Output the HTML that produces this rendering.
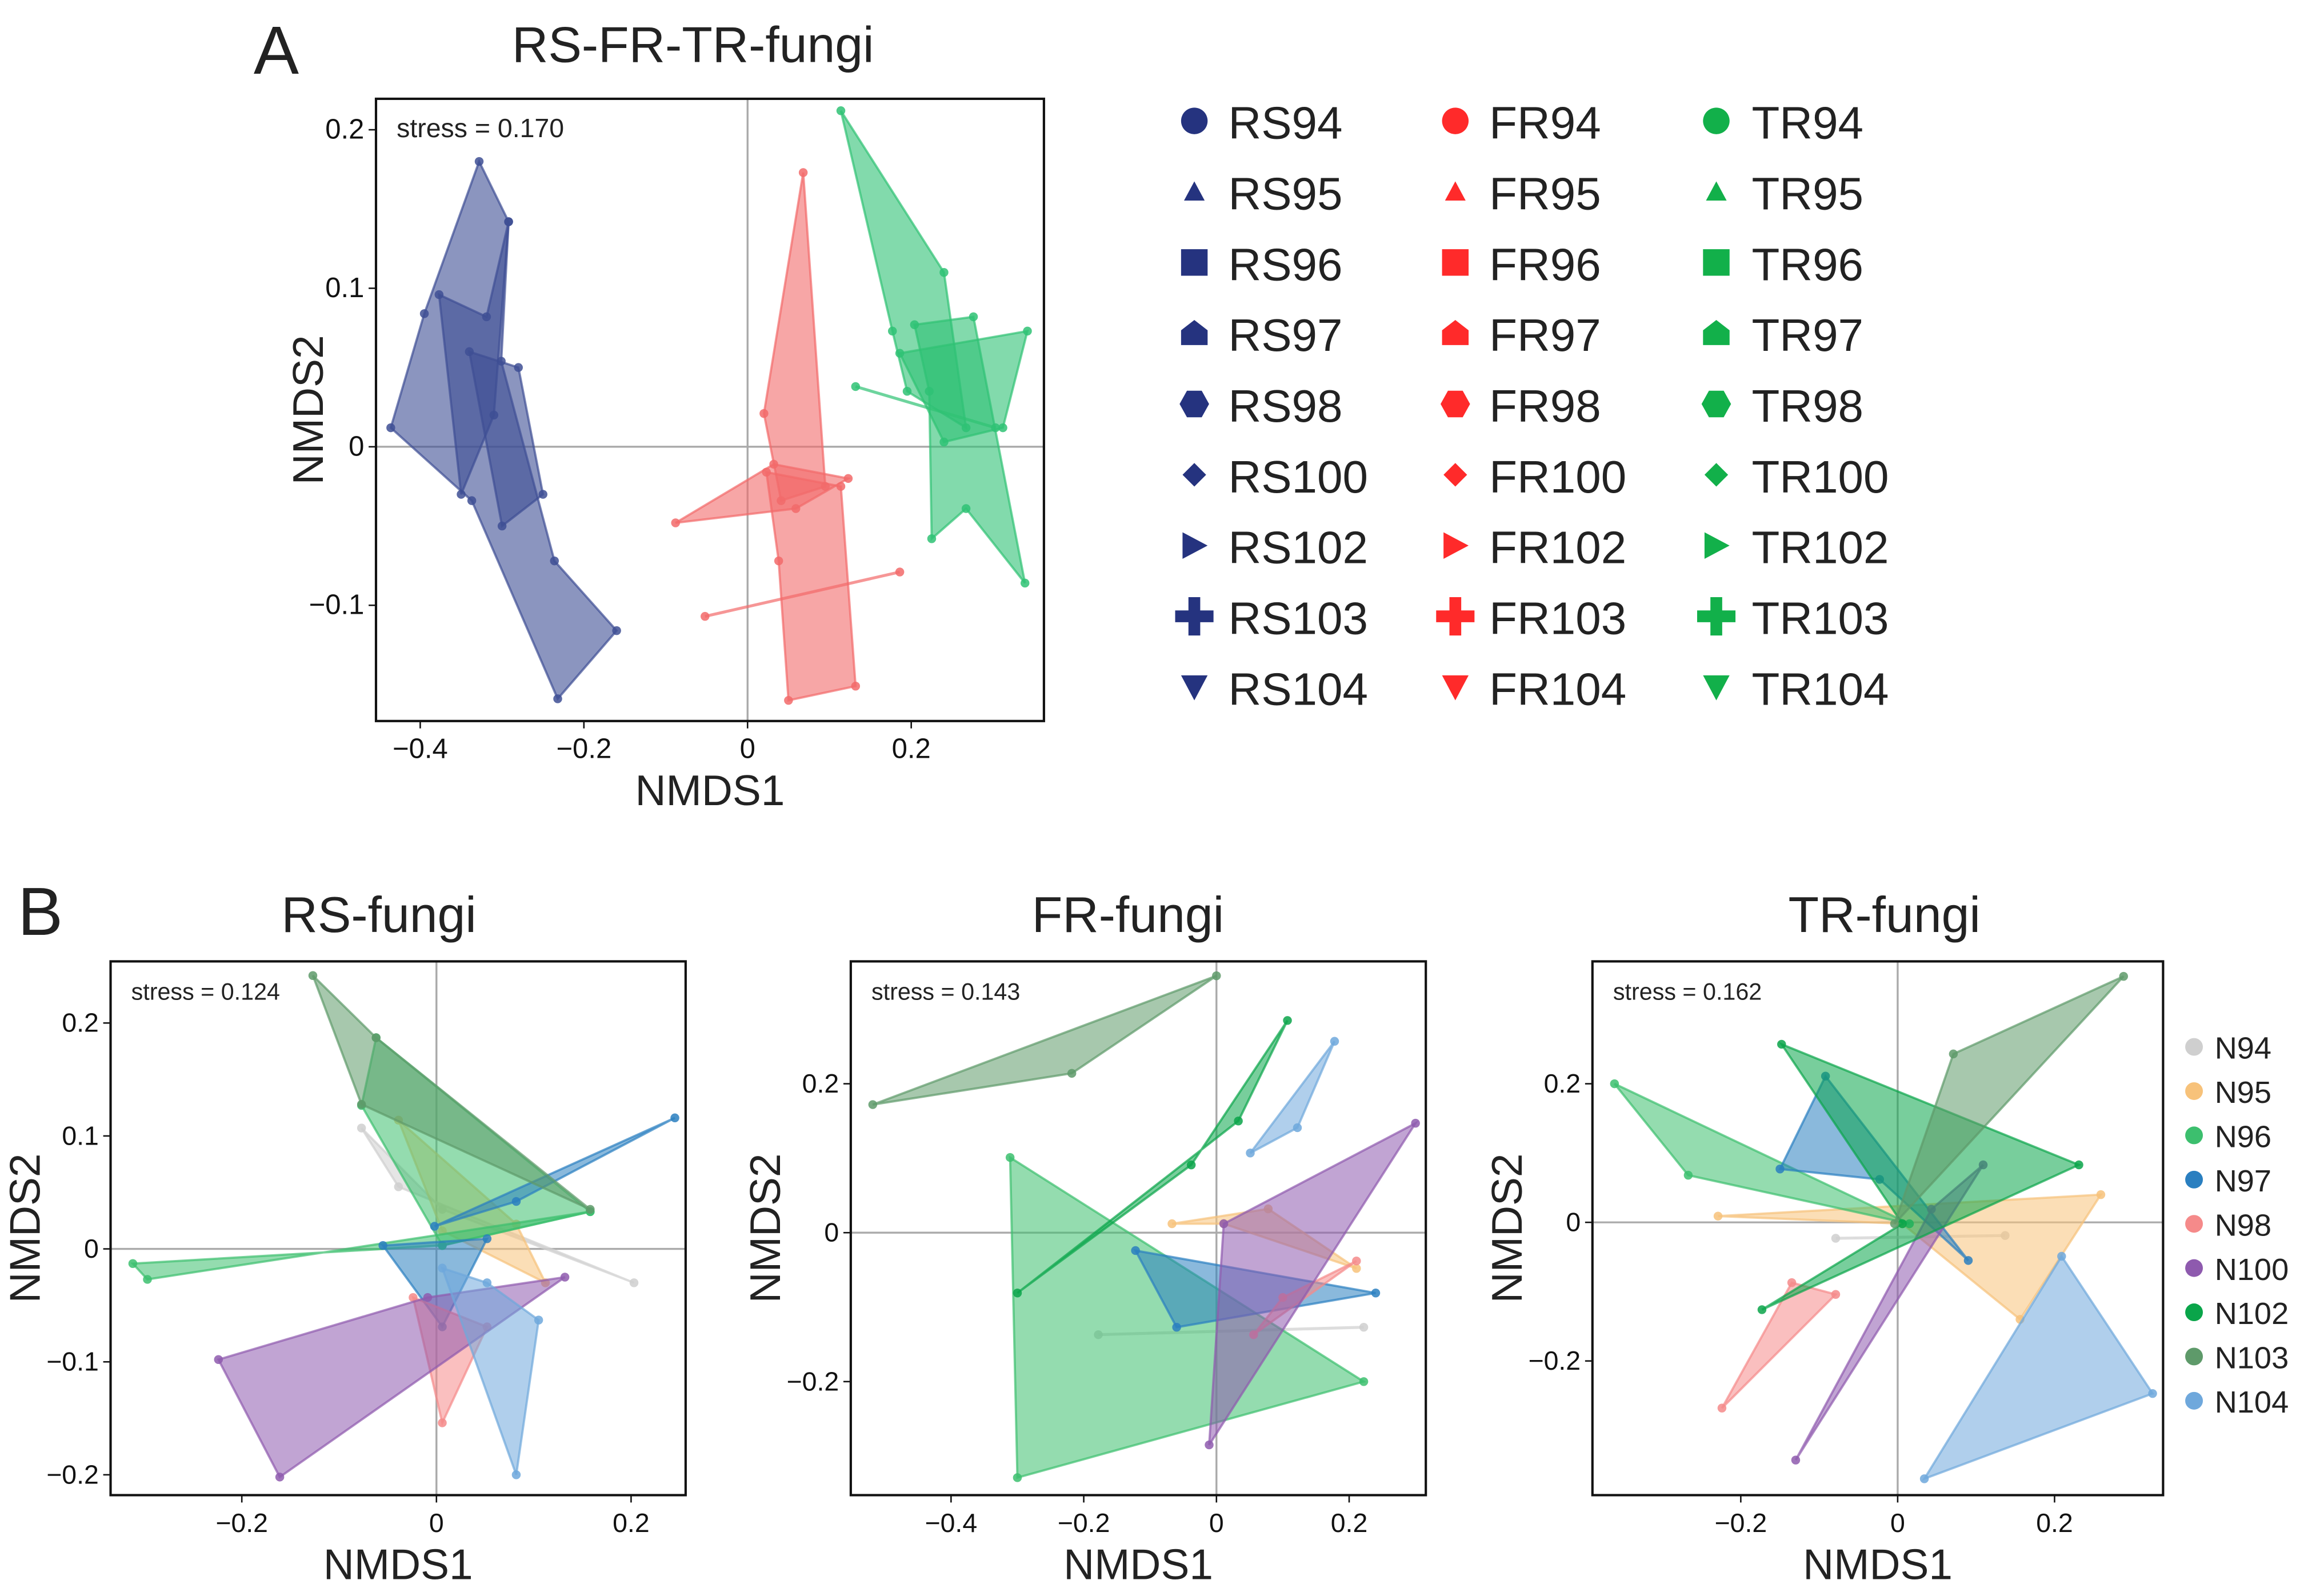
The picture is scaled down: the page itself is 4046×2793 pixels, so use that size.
<!DOCTYPE html>
<html><head><meta charset="utf-8"><style>
html,body{margin:0;padding:0;background:#fff}
svg{display:block;font-family:"Liberation Sans",Arial,sans-serif}
</style></head><body>
<svg id="chart" width="4046" height="2793" viewBox="0 0 1568 1082.4" xmlns="http://www.w3.org/2000/svg"></svg>
<script>
// ---------- Panel A data (NMDS1, NMDS2) ----------
const rsPolys = [
 [[-0.328,0.180],[-0.292,0.142],[-0.301,0.054],[-0.236,-0.072],[-0.160,-0.116],[-0.232,-0.159],[-0.337,-0.034],[-0.436,0.012],[-0.395,0.084]],
 [[-0.377,0.096],[-0.319,0.082],[-0.292,0.142],[-0.310,0.020],[-0.350,-0.030]],
 [[-0.340,0.060],[-0.280,0.050],[-0.250,-0.030],[-0.300,-0.050]]
];
const frPolys = [
 [[0.068,0.173],[0.095,-0.025],[0.041,-0.034],[0.020,0.021]],
 [[-0.088,-0.048],[0.032,-0.011],[0.123,-0.020],[0.059,-0.039]],
 [[0.023,-0.016],[0.114,-0.025],[0.132,-0.151],[0.050,-0.160],[0.038,-0.072]],
 [[-0.052,-0.107],[0.186,-0.079]]
];
const trPolys = [
 [[0.114,0.212],[0.240,0.110],[0.267,0.012],[0.195,0.035],[0.177,0.073]],
 [[0.204,0.077],[0.276,0.082],[0.339,-0.086],[0.267,-0.039],[0.225,-0.058],[0.222,0.035]],
 [[0.186,0.059],[0.342,0.073],[0.312,0.012],[0.240,0.003]],
 [[0.132,0.038],[0.303,0.012]]
];
const aXTicks = [-0.4,-0.2,0,0.2];
const aYTicks = [0.2,0.1,0,-0.1];
const legendA = ["94","95","96","97","98","100","102","103","104"];
// ---------- Panel B data ----------
const groups = ["N94","N95","N96","N97","N98","N100","N102","N103","N104"];
const groupColors = ["#cfcfcf","#f7c27a","#3cbf6e","#2a7fc0","#f58a8a","#8e5aae","#0aa54a","#5e9a6a","#6fa8dc"];
const rsB = {
 N103:[[[-0.127,0.242],[-0.062,0.187],[0.158,0.035],[-0.077,0.128]]],
 N96:[[[-0.312,-0.013],[-0.297,-0.027],[0.158,0.033],[0.006,0.003]],[[-0.062,0.187],[0.158,0.033],[0.006,0.003],[-0.077,0.127]]],
 N94:[[[-0.077,0.107],[-0.039,0.055],[0.203,-0.030],[0.006,0.035]]],
 N95:[[[-0.039,0.114],[0.082,0.022],[0.112,-0.030],[0.006,0.016]]],
 N97:[[[-0.002,0.020],[0.245,0.116],[0.082,0.042]],[[-0.055,0.003],[0.006,-0.069],[0.052,0.009]]],
 N100:[[[-0.224,-0.098],[-0.161,-0.202],[0.132,-0.025],[-0.009,-0.043]]],
 N98:[[[-0.024,-0.043],[0.006,-0.154],[0.052,-0.069]]],
 N104:[[[0.006,-0.017],[0.082,-0.200],[0.105,-0.063],[0.052,-0.030]]]
};
const frB = {
 N96:[[[-0.311,0.101],[-0.300,-0.329],[0.222,-0.200]]],
 N103:[[[-0.518,0.172],[-0.218,0.214],[0,0.345]]],
 N102:[[[-0.300,-0.081],[-0.038,0.091],[0.107,0.285],[0.033,0.150]]],
 N104:[[[0.051,0.107],[0.122,0.141],[0.178,0.257]]],
 N100:[[[0.011,0.012],[0.300,0.147],[-0.011,-0.285]]],
 N95:[[[-0.067,0.012],[0.078,0.032],[0.211,-0.048],[0.011,0.012]]],
 N97:[[[-0.122,-0.024],[-0.060,-0.127],[0.240,-0.081]]],
 N98:[[[0.056,-0.137],[0.211,-0.038],[0.100,-0.087]]],
 N94:[[[-0.178,-0.137],[0.222,-0.127]]]
};
const trB = {
 N96:[[[-0.361,0.200],[-0.267,0.068],[0.015,-0.002]]],
 N102:[[[-0.148,0.257],[0.231,0.083],[-0.173,-0.126],[0.006,-0.002]]],
 N97:[[[-0.092,0.211],[-0.150,0.077],[-0.023,0.062],[0.090,-0.055]]],
 N103:[[[0.288,0.355],[0.071,0.243],[-0.004,-0.002]]],
 N95:[[[-0.229,0.009],[0.259,0.040],[0.156,-0.140],[0.006,-0.002]]],
 N104:[[[0.034,-0.370],[0.209,-0.049],[0.325,-0.247]]],
 N100:[[[-0.130,-0.343],[0.109,0.083],[0.043,0.019]]],
 N98:[[[-0.224,-0.268],[-0.135,-0.087],[-0.079,-0.104]]],
 N94:[[[-0.079,-0.023],[0.137,-0.019]]]
};
const bStress = ["stress = 0.124","stress = 0.143","stress = 0.162"];
const bXTicks = [[-0.2,0,0.2],[-0.4,-0.2,0,0.2],[-0.2,0,0.2]];
const bYTicks = [[0.2,0.1,0,-0.1,-0.2],[0.2,0,-0.2],[0.2,0,-0.2]];

const svg = document.getElementById('chart');
const NS = "http://www.w3.org/2000/svg";
function mk(tag, attrs, parent){const e=document.createElementNS(NS,tag);for(const k in attrs)e.setAttribute(k,attrs[k]);(parent||svg).appendChild(e);return e;}
function txt(s, attrs, parent){const e=mk('text',attrs,parent);e.textContent=s;return e;}

function panel(cfg){
 const g=mk('g',{});
 
 
 const sx=v=>cfg.x0+v*cfg.kx, sy=v=>cfg.y0-v*cfg.ky;
 // zero lines
 const zx=mk('line',{x1:sx(0),x2:sx(0),y1:cfg.top,y2:cfg.bottom,stroke:'#aaa','stroke-width':1.3},g);
  
 const zy=mk('line',{x1:cfg.left,x2:cfg.right,y1:sy(0),y2:sy(0),stroke:'#aaa','stroke-width':1.3},g);
  
 // series
 cfg.series.forEach(s=>{
  s.polys.forEach((p,i)=>{
   const pts=p.map(q=>sx(q[0])+','+sy(q[1])).join(' ');
   let el;
   if(p.length>2){el=mk('polygon',{points:pts,fill:s.color,'fill-opacity':s.op||0.5,stroke:s.color,'stroke-opacity':0.7,'stroke-width':1.5},g);}
   else{el=mk('polyline',{points:pts,fill:'none',stroke:s.color,'stroke-opacity':0.7,'stroke-width':2},g);}
   
   
   p.forEach(q=>{const c=mk('circle',{cx:sx(q[0]),cy:sy(q[1]),r:3,fill:s.color,'fill-opacity':0.85},g);
    
    });
  });
 });
 // frame
 const fr=mk('rect',{x:cfg.left,y:cfg.top,width:cfg.right-cfg.left,height:cfg.bottom-cfg.top,fill:'none',stroke:'#111','stroke-width':1.6},g);
  
 cfg.xt.forEach(v=>{mk('line',{x1:sx(v),x2:sx(v),y1:cfg.bottom,y2:cfg.bottom+5,stroke:'#111'},g);
  const t=txt(v===0?'0':(v<0?'\u2212'+Math.abs(v):String(v)),{x:sx(v),y:cfg.bottom+25,'text-anchor':'middle','font-size':cfg.tf,fill:'#111'},g);
   });
 cfg.yt.forEach(v=>{mk('line',{x1:cfg.left-5,x2:cfg.left,y1:sy(v),y2:sy(v),stroke:'#111'},g);
  const t=txt(v===0?'0':(v<0?'\u2212'+Math.abs(v):String(v)),{x:cfg.left-8,y:sy(v)+6,'text-anchor':'end','font-size':cfg.tf,fill:'#111'},g);
   });
 const st=txt(cfg.stress,{x:cfg.left+14,y:cfg.top+26,'font-size':cfg.sf,fill:'#222'},g);
  
 const xt=txt('NMDS1',{x:(cfg.left+cfg.right)/2,y:cfg.bottom+57,'text-anchor':'middle','font-size':cfg.af,fill:'#222'},g);
  
 const yx=cfg.left-cfg.ytOff, yy=(cfg.top+cfg.bottom)/2;
 const yt=txt('NMDS2',{x:yx,y:yy,'text-anchor':'middle','font-size':cfg.af,fill:'#222',transform:`rotate(-90 ${yx} ${yy})`},g);
  
 const ti=txt(cfg.title,{x:cfg.tx,y:cfg.ty,'text-anchor':'middle','font-size':34,fill:'#222'},g);
  
}

// Panel A
const RS='#25337f', FRc='#ff2a2a', TRc='#12b04a';
panel({name:'panel-a-plot',left:255,right:708,top:67,bottom:489,x0:507,kx:555,y0:303,ky:1075,
 xt:aXTicks,yt:aYTicks,tf:19,sf:18,af:29,ytOff:36,stress:'stress = 0.170',title:'RS-FR-TR-fungi',tx:470,ty:42,
 series:[{label:'rs',color:'#3e4f94',polys:rsPolys,op:0.6},{label:'fr',color:'#f26a6a',polys:frPolys,op:0.6},{label:'tr',color:'#2fc274',polys:trPolys,op:0.6}]});
const la=txt('A',{x:172,y:50,'font-size':46,fill:'#222'});  

// Panel A legend
const shapes=['circle','tri','square','house','hex','diamond','right','plus','down'];
function marker(shape,cx,cy,color){
 const s=9; let el;
 switch(shape){
  case 'circle': el=mk('circle',{cx,cy,r:s,fill:color});break;
  case 'tri': el=mk('polygon',{points:`${cx},${cy-7} ${cx+7},${cy+6} ${cx-7},${cy+6}`,fill:color});break;
  case 'square': el=mk('rect',{x:cx-9,y:cy-9,width:18,height:18,fill:color});break;
  case 'house': el=mk('polygon',{points:`${cx},${cy-9} ${cx+9},${cy-2} ${cx+9},${cy+8} ${cx-9},${cy+8} ${cx-9},${cy-2}`,fill:color});break;
  case 'hex': el=mk('polygon',{points:`${cx-5},${cy-9} ${cx+5},${cy-9} ${cx+10},${cy} ${cx+5},${cy+9} ${cx-5},${cy+9} ${cx-10},${cy}`,fill:color});break;
  case 'diamond': el=mk('polygon',{points:`${cx},${cy-8} ${cx+8},${cy} ${cx},${cy+8} ${cx-8},${cy}`,fill:color});break;
  case 'right': el=mk('polygon',{points:`${cx-8},${cy-9} ${cx+9},${cy} ${cx-8},${cy+9}`,fill:color});break;
  case 'plus': el=mk('path',{d:`M${cx-4},${cy-13}h8v9h9v8h-9v9h-8v-9h-9v-8h9z`,fill:color});break;
  default: el=mk('polygon',{points:`${cx-9},${cy-8} ${cx+9},${cy-8} ${cx},${cy+9}`,fill:color});
 }
 return el;
}
[['RS',RS,810,833],['FR',FRc,987,1010],['TR',TRc,1164,1188]].forEach(([p,c,mx,tx])=>{
 legendA.forEach((n,i)=>{
  const y=82+i*48;
  const m=marker(shapes[i],mx,y,c);
  
  
  const t=txt(p+n,{x:tx,y:y+12,'font-size':31,fill:'#222'});
  
  
 });
});

// Panel B
function seriesFrom(obj){return groups.filter(gn=>obj[gn]).map(gn=>({label:gn.toLowerCase(),color:groupColors[groups.indexOf(gn)],polys:obj[gn],op:0.55}));}
const lb=txt('B',{x:12,y:634,'font-size':46,fill:'#222'});  
panel({name:'rs-fungi-plot',left:75,right:465,top:652,bottom:1014,x0:296,kx:660,y0:847,ky:766,xt:bXTicks[0],yt:bYTicks[0],tf:18,sf:16,af:29,ytOff:48,stress:bStress[0],title:'RS-fungi',tx:257,ty:632,series:seriesFrom(rsB)});
panel({name:'fr-fungi-plot',left:577,right:967,top:652,bottom:1014,x0:825,kx:450,y0:836,ky:505,xt:bXTicks[1],yt:bYTicks[1],tf:18,sf:16,af:29,ytOff:48,stress:bStress[1],title:'FR-fungi',tx:765,ty:632,series:seriesFrom(frB)});
panel({name:'tr-fungi-plot',left:1080,right:1467,top:652,bottom:1014,x0:1287,kx:532,y0:829,ky:470,xt:bXTicks[2],yt:bYTicks[2],tf:18,sf:16,af:29,ytOff:48,stress:bStress[2],title:'TR-fungi',tx:1278,ty:632,series:seriesFrom(trB)});
groups.forEach((gn,i)=>{
 const y=710+i*30;
 const c=mk('circle',{cx:1488,cy:y,r:6,fill:groupColors[i]});
 
 
 const t=txt(gn,{x:1502,y:y+8,'font-size':21,fill:'#222'});
 
 
});
</script>
</body></html>
